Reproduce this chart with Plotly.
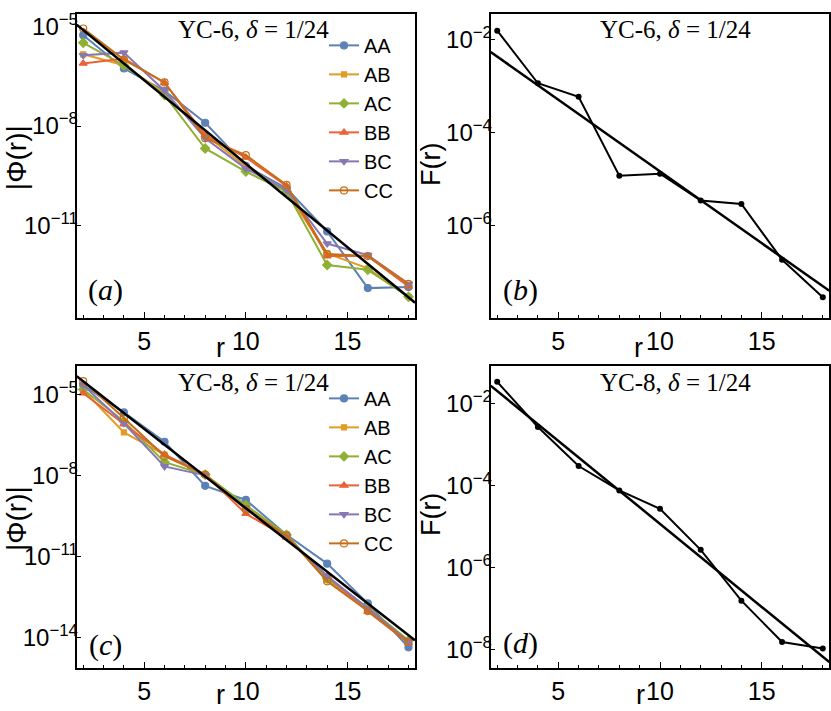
import plotly.graph_objects as go

W, H = 831, 711

# distances r shared by every panel
r = [2, 4, 6, 8, 10, 12, 14, 16, 18]
pairs = ["AA", "AB", "AC", "BB", "BC", "CC"]

# (a) YC-6 |Phi(r)| per bond pair
yc6_phi = {
    "AA": [5.6e-6, 5.5e-7, 1.17e-7, 1.26e-8, 6.3e-10, 1.32e-10, 6.5e-12, 1.26e-13, 1.35e-13],
    "AB": [1.48e-6, 6.9e-7, 9.8e-8, 5.6e-9, 5.9e-10, 1.05e-10, 1.41e-12, 5.0e-13, 6.9e-14],
    "AC": [3.3e-6, 6.9e-7, 8.7e-8, 2.1e-9, 4.2e-10, 1.05e-10, 6.3e-13, 4.5e-13, 6.9e-14],
    "BB": [7.8e-7, 1.10e-6, 2.04e-7, 5.4e-9, 1.12e-9, 1.55e-10, 1.17e-12, 1.17e-12, 1.41e-13],
    "BC": [1.38e-6, 1.66e-6, 1.17e-7, 4.3e-9, 5.2e-10, 1.17e-10, 2.8e-12, 1.26e-12, 1.70e-13],
    "CC": [8.9e-6, 1.02e-6, 2.09e-7, 4.3e-9, 1.32e-9, 1.66e-10, 1.35e-12, 1.17e-12, 1.70e-13],
}
# (c) YC-8 |Phi(r)| per bond pair
yc8_phi = {
    "AA": [2.19e-5, 2.14e-6, 1.74e-7, 4.1e-9, 1.23e-9, 6.3e-11, 5.4e-12, 1.82e-13, 4.3e-15],
    "AB": [1.45e-5, 3.9e-7, 5.9e-8, 1.07e-8, 6.3e-10, 6.3e-11, 1.32e-12, 1.02e-13, 7.1e-15],
    "AC": [1.51e-5, 1.0e-6, 3.1e-8, 1.07e-8, 7.9e-10, 6.3e-11, 1.51e-12, 1.29e-13, 7.8e-15],
    "BB": [1.10e-5, 7.9e-7, 5.9e-8, 1.07e-8, 3.8e-10, 5.1e-11, 1.86e-12, 9.1e-14, 6.3e-15],
    "BC": [2.19e-5, 8.5e-7, 2.14e-8, 1.0e-8, 6.3e-10, 5.2e-11, 1.86e-12, 1.20e-13, 7.1e-15],
    "CC": [3.1e-5, 1.32e-6, 5.1e-8, 1.07e-8, 5.5e-10, 5.9e-11, 1.20e-12, 9.5e-14, 6.8e-15],
}
# (b), (d) F(r)
yc6_F = [1.58e-2, 1.17e-3, 6.0e-4, 1.20e-5, 1.32e-5, 3.5e-6, 2.95e-6, 1.86e-7, 2.9e-8]
yc8_F = [3.4e-2, 2.7e-3, 3.0e-4, 7.6e-5, 2.7e-5, 2.7e-6, 1.55e-7, 1.51e-8, 1.05e-8]

# exponential fits, end points at the frame edges
fit_r = [1.68, 18.32]
fit_a = [1.16e-5, 4.57e-14]
fit_b = [5.5e-3, 3.98e-8]
fit_c = [4.7e-5, 7.9e-15]
fit_d = [2.75e-2, 4.9e-9]

colors = {"AA": "#5E81B5", "AB": "#E19C24", "AC": "#8FB032",
          "BB": "#EB6235", "BC": "#8778B3", "CC": "#C56E1A"}
symbols = {"AA": "circle", "AB": "square", "AC": "diamond",
           "BB": "triangle-up", "BC": "triangle-down", "CC": "circle-open"}

FONT = "Liberation Sans"
SERIF = "Liberation Serif"

fig = go.Figure()

def add_pairs(data, xa, ya, legend):
    for p in pairs:
        fig.add_trace(go.Scatter(
            x=r, y=data[p], mode="lines+markers", name=p,
            xaxis=xa, yaxis=ya, legend=legend,
            line=dict(color=colors[p], width=2),
            marker=dict(symbol=symbols[p], size=7 if p != "AB" else 5,
                        color=colors[p], line=dict(width=1.2, color=colors[p])),
        ))

def add_fit(fy, xa, ya):
    fig.add_trace(go.Scatter(x=fit_r, y=fy, mode="lines", xaxis=xa, yaxis=ya,
                             line=dict(color="black", width=2.5), showlegend=False))

def add_F(fy, xa, ya):
    fig.add_trace(go.Scatter(x=r, y=fy, mode="lines+markers", xaxis=xa, yaxis=ya,
                             line=dict(color="black", width=2),
                             marker=dict(color="black", size=6), showlegend=False))

add_pairs(yc6_phi, "x", "y", "legend")
add_fit(fit_a, "x", "y")
add_F(yc6_F, "x2", "y2")
add_fit(fit_b, "x2", "y2")
add_pairs(yc8_phi, "x3", "y3", "legend2")
add_fit(fit_c, "x3", "y3")
add_F(yc8_F, "x4", "y4")
add_fit(fit_d, "x4", "y4")

def px(x):
    return x / W

def py(y):
    return 1 - y / H

def xax(dom, anchor):
    return dict(domain=dom, anchor=anchor, range=[1.68, 18.32], showline=True,
                linecolor="black", linewidth=2, mirror=True, showgrid=False,
                zeroline=False, ticks="inside", ticklen=6, tickwidth=1.2,
                tickcolor="black", tickvals=[5, 10, 15],
                minor=dict(tickvals=[2, 3, 4, 6, 7, 8, 9, 11, 12, 13, 14, 16, 17, 18],
                           ticks="inside", ticklen=3, tickcolor="black", tickwidth=1),
                tickfont=dict(family=FONT, size=25, color="black"))

def sup(e):
    return "10<sup>\u2212%d</sup>" % e

def yax(dom, anchor, rng, exps):
    return dict(domain=dom, anchor=anchor, type="log", range=rng, showline=True,
                linecolor="black", linewidth=2, mirror=True, showgrid=False,
                zeroline=False, ticks="inside", ticklen=4, tickwidth=1.2,
                tickcolor="black", tickvals=[10.0 ** (-e) for e in exps],
                ticktext=[sup(e) for e in exps], ticklabelstandoff=-8,
                tickfont=dict(family=FONT, size=24, color="black"))

xl = [px(76.7), px(415)]
xr = [px(490.7), px(829.3)]
yt = [py(316), py(10)]
yb = [py(668), py(364)]

leg = dict(xanchor="left", yanchor="top", bgcolor="rgba(0,0,0,0)",
           font=dict(family=FONT, size=20, color="black"))

fig.update_layout(
    width=W, height=H, margin=dict(l=0, r=0, t=0, b=0),
    paper_bgcolor="white", plot_bgcolor="white",
    xaxis=xax(xl, "y"), yaxis=yax(yt, "x", [-13.81, -4.61], [5, 8, 11]),
    xaxis2=xax(xr, "y2"), yaxis2=yax(yt, "x2", [-7.99, -1.44], [2, 4, 6]),
    xaxis3=xax(xl, "y3"), yaxis3=yax(yb, "x3", [-15.14, -3.95], [5, 8, 11, 14]),
    xaxis4=xax(xr, "y4"), yaxis4=yax(yb, "x4", [-8.46, -1.08], [2, 4, 6, 8]),
    legend=dict(x=px(324), y=py(22), **leg),
    legend2=dict(x=px(324), y=py(377), **leg),
)

title = "YC-%d, <i>\u03b4</i> = 1/24"
notes = [
    (title % 6, 253, 26, SERIF, 25, 0),
    (title % 6, 675, 26, SERIF, 25, 0),
    (title % 8, 253, 381, SERIF, 25, 0),
    (title % 8, 675, 381, SERIF, 25, 0),
    ("(<i>a</i>)", 105, 288, SERIF, 30, 0),
    ("(<i>b</i>)", 520, 288, SERIF, 30, 0),
    ("(<i>c</i>)", 105, 645, SERIF, 30, 0),
    ("(<i>d</i>)", 520, 643, SERIF, 30, 0),
    ("|\u03a6(r)|", 16, 155, FONT, 28, -90),
    ("F(r)", 431, 162, FONT, 27, -90),
    ("|\u03a6(r)|", 16, 518, FONT, 28, -90),
    ("F(r)", 431, 514, FONT, 27, -90),
]
for text, x, y, fam, size, ang in notes:
    fig.add_annotation(text=text, x=px(x), y=py(y), xref="paper", yref="paper",
                       showarrow=False, textangle=ang, xanchor="center", yanchor="middle",
                       font=dict(family=fam, size=size, color="black"))

# x-axis titles "r", sitting just left of the 10 label
for x, y, anc in [(220, 346, "middle"), (638, 346, "middle"),
                  (220, 711, "bottom"), (640, 711, "bottom")]:
    fig.add_annotation(text="r", x=px(x), y=py(y), xref="paper", yref="paper",
                       showarrow=False, xanchor="center", yanchor=anc,
                       borderpad=0, font=dict(family=FONT, size=27, color="black"))

# page body margin would shift the figure by 8px
fig.write_html("out.html", config={"displayModeBar": False},
               post_script="document.body.style.margin='0';")
